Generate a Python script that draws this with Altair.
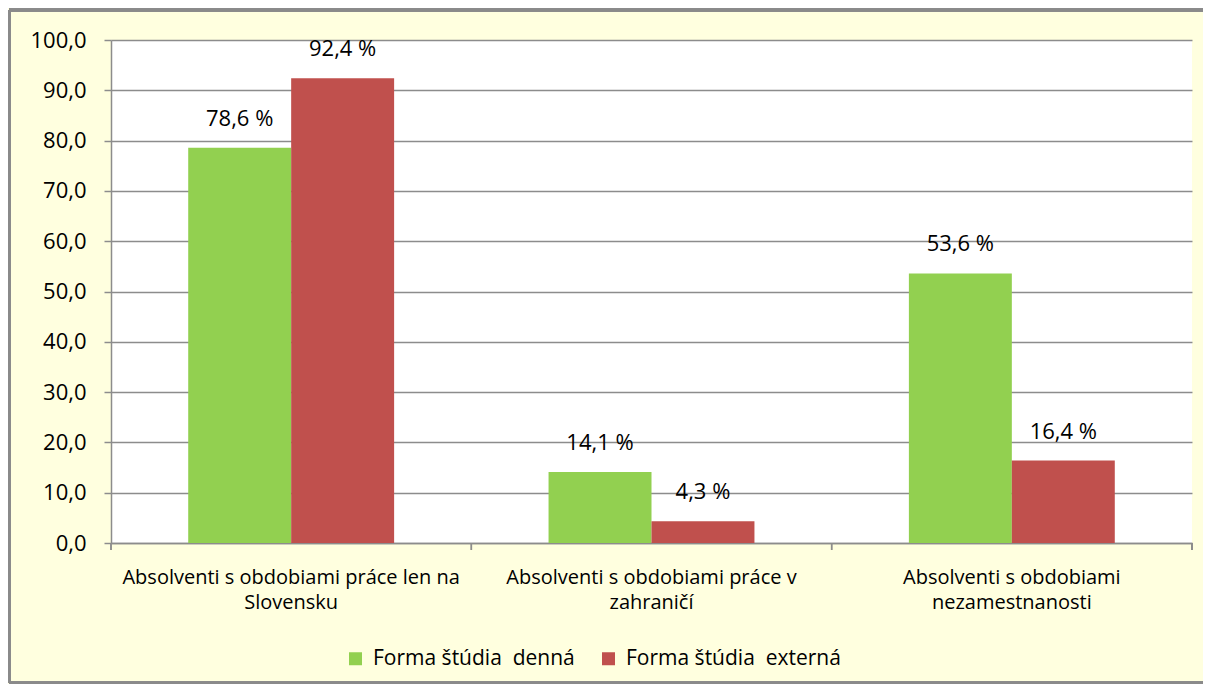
import altair as alt
import pandas as pd

categories = [
    "Absolventi s obdobiami práce len na Slovensku",
    "Absolventi s obdobiami práce v zahraničí",
    "Absolventi s obdobiami nezamestnanosti",
]
label_lines = [
    ["Absolventi s obdobiami práce len na", "Slovensku"],
    ["Absolventi s obdobiami práce v", "zahraničí"],
    ["Absolventi s obdobiami", "nezamestnanosti"],
]
series = ["Forma štúdia  denná", "Forma štúdia  externá"]
denna = [78.6, 14.1, 53.6]
externa = [92.4, 4.3, 16.4]
colors = ["#92D050", "#C0504D"]
y_ticks = [0, 10, 20, 30, 40, 50, 60, 70, 80, 90, 100]

rows = []
for s, vals in zip(series, [denna, externa]):
    for c, v in zip(categories, vals):
        rows.append({"cat": c, "series": s, "value": v,
                     "label": f"{v:.1f}".replace(".", ",") + " %"})
df = pd.DataFrame(rows)

# label expression for two-line category labels
expr = "datum.label"
for c, lines in reversed(list(zip(categories, label_lines))):
    arr = "[" + ", ".join("'" + l + "'" for l in lines) + "]"
    expr = f"datum.label == '{c}' ? {arr} : ({expr})"

W, H = 1081, 503
FONT = "Open Sans"
FS = 21
GRAY = "#8c8c8c"

x_enc = alt.X(
    "cat:N", sort=categories,
    scale=alt.Scale(paddingInner=0, paddingOuter=0),
    axis=alt.Axis(title=None, labelExpr=expr, labelAngle=0, ticks=False,
                  domainColor=GRAY, domainWidth=1.5, labelFontSize=FS - 1,
                  labelFont=FONT, labelPadding=24, labelLineHeight=25,
                  labelColor="#000", labelLimit=0, grid=False),
)
xo_enc = alt.XOffset("series:N", sort=series,
                     scale=alt.Scale(paddingOuter=0.75, paddingInner=0))
y_enc = alt.Y(
    "value:Q", scale=alt.Scale(domain=[0, 100], nice=False),
    axis=alt.Axis(values=y_ticks, title=None, grid=True, gridColor=GRAY,
                  gridWidth=1.5, tickSize=7, tickColor=GRAY, tickWidth=1.5,
                  domainColor=GRAY, domainWidth=1.5, labelFontSize=FS + 1,
                  labelFont=FONT, labelPadding=18, labelColor="#000",
                  labelExpr="replace(format(datum.value, '.1f'), '.', ',')"),
)

base = alt.Chart(df)

bars = base.mark_bar().encode(
    x=x_enc, xOffset=xo_enc, y=y_enc,
    color=alt.Color("series:N", scale=alt.Scale(domain=series, range=colors),
                    legend=alt.Legend(orient="none", legendX=234, legendY=608,
                                      direction="horizontal", title=None,
                                      symbolType="square", symbolSize=169,
                                      symbolStrokeWidth=0, labelFontSize=FS,
                                      labelFont=FONT, labelColor="#000",
                                      columnPadding=23, labelOffset=7,
                                      padding=0, labelLimit=0,
                                      labelExpr="replace(datum.label, '  ', ' \u00a0')")),
)

texts = base.mark_text(dy=-22, baseline="alphabetic", fontSize=FS + 1,
                       font=FONT, color="#000").encode(
    x=alt.X("cat:N", sort=categories), xOffset=alt.XOffset("series:N", sort=series),
    y="value:Q", text="label:N",
)

xticks = base.mark_rule(color=GRAY, strokeWidth=1.5).encode(
    x=alt.X("cat:N", sort=categories, bandPosition=0),
    y=alt.value(H), y2=alt.value(H + 7),
)
last_tick = base.mark_rule(color=GRAY, strokeWidth=1.5).encode(
    x=alt.value(W), y=alt.value(H), y2=alt.value(H + 7),
)

frame_top = base.mark_rule(color="#8a8a8a", strokeWidth=3).encode(
    x=alt.value(-102), x2=alt.value(W + 12), y=alt.value(-30))
frame_left = base.mark_rule(color="#8a8a8a", strokeWidth=3).encode(
    x=alt.value(-102), y=alt.value(-30), y2=alt.value(643))
frame_bottom = base.mark_rule(color="#8a8a8a", strokeWidth=3).encode(
    x=alt.value(-102), x2=alt.value(W + 12), y=alt.value(643))

chart = alt.layer(bars, texts, xticks, last_tick, frame_top, frame_left, frame_bottom).properties(
    width=W, height=H,
    background="#FFFFDF",
    autosize=alt.AutoSizeParams(type="none"),
    padding={"left": 103, "top": 32, "right": 11, "bottom": 141},
).configure_view(fill="white", stroke=None)

chart.save("out.html", embed_options={"renderer": "svg", "actions": False})
